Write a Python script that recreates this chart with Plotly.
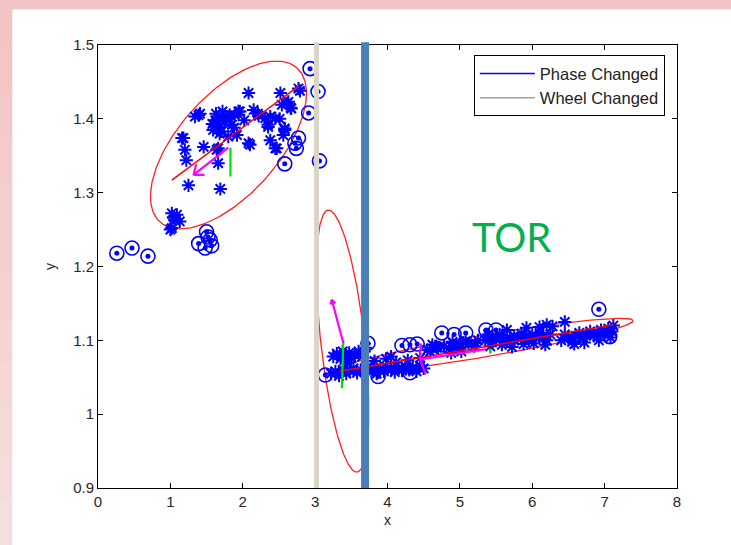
import numpy as np
import plotly.graph_objects as go

# ---- data -------------------------------------------------------------
# cluster 1 (upper-left) samples
c1_star_x = [2.08, 2.52, 1.39, 1.63, 1.64, 1.72, 1.82, 1.94, 2.15, 2.22, 2.38, 2.51, 2.61, 2.66,
             2.77, 2.35, 2.58, 2.56, 1.59, 1.70, 1.92, 1.18, 1.46, 2.10, 2.38, 2.45, 1.20, 1.22,
             1.66, 1.66, 1.25, 1.69, 2.79, 1.34, 1.41, 1.62, 1.69, 1.78, 1.89, 1.96, 2.21, 2.31,
             2.35, 2.45, 2.54, 2.63, 2.67, 2.58, 2.47, 2.08, 1.80, 1.64, 1.16, 1.75, 1.85, 1.68,
             1.72, 1.58, 2.02, 1.88,
             1.02, 1.09, 1.06, 1.13, 1.02, 1.00, 1.05]
c1_star_y = [1.435, 1.435, 1.405, 1.407, 1.398, 1.402, 1.405, 1.410, 1.412, 1.404, 1.403, 1.400,
             1.421, 1.415, 1.441, 1.389, 1.387, 1.378, 1.385, 1.383, 1.378, 1.374, 1.362, 1.365,
             1.371, 1.360, 1.358, 1.344, 1.360, 1.340, 1.310, 1.305, 1.438, 1.403, 1.407, 1.398,
             1.389, 1.403, 1.405, 1.410, 1.407, 1.401, 1.392, 1.401, 1.419, 1.423, 1.414, 1.385,
             1.360, 1.367, 1.376, 1.358, 1.374, 1.395, 1.392, 1.380, 1.410, 1.393, 1.398, 1.388,
             1.272, 1.270, 1.263, 1.261, 1.252, 1.250, 1.266]
c1_out_x = [2.93, 3.04, 2.91, 2.77, 2.72, 2.74, 2.58, 3.06, 0.26, 0.47, 0.69, 1.50, 1.52, 1.39,
            1.48, 1.57, 1.55]
c1_out_y = [1.468, 1.437, 1.408, 1.374, 1.367, 1.360, 1.339, 1.343, 1.218, 1.225, 1.214, 1.247,
            1.240, 1.231, 1.225, 1.228, 1.236]

# cluster 2/3 (lower-right) samples
c2_star_x = [3.25, 3.30, 3.35, 3.38, 3.42, 3.47, 3.50, 3.55, 3.60, 3.65, 3.70, 3.45,
             3.22, 3.28, 3.33, 3.38, 3.43, 3.48, 3.53, 3.58, 3.63, 3.68, 3.72,
             3.80, 3.85, 3.90, 3.95, 4.00, 4.05, 4.10, 4.15, 4.20, 4.25, 4.30, 4.35, 4.40, 4.45,
             4.50, 3.82, 3.98, 4.05, 4.12, 4.28, 4.45, 4.68, 4.59, 4.66,
             4.55, 4.62, 4.70, 4.78, 4.85, 4.90, 4.95, 5.00, 5.05, 5.12, 5.20, 5.25, 4.88, 5.02,
             5.08, 5.21, 5.39,
             5.35, 5.40, 5.45, 5.50, 5.55, 5.60, 5.65, 5.70, 5.75, 5.80, 5.85, 5.90, 5.95, 6.00,
             6.05, 6.10, 6.15, 6.20, 6.25, 5.42, 5.58, 5.72, 5.88, 6.02, 6.18, 5.65, 5.92, 6.10,
             6.28, 6.45, 6.20,
             6.40, 6.45, 6.50, 6.55, 6.60, 6.65, 6.70, 6.75, 6.80, 6.85, 6.90, 6.95, 7.00, 7.05,
             7.10, 7.12, 6.58, 6.72, 6.92, 7.08]
c2_star_y = [1.078, 1.082, 1.075, 1.085, 1.079, 1.083, 1.076, 1.080, 1.085, 1.078, 1.090, 1.070,
             1.055, 1.058, 1.052, 1.060, 1.055, 1.058, 1.062, 1.056, 1.060, 1.058, 1.064,
             1.060, 1.055, 1.062, 1.058, 1.063, 1.060, 1.057, 1.062, 1.059, 1.064, 1.060, 1.063,
             1.058, 1.066, 1.062, 1.072, 1.075, 1.078, 1.070, 1.073, 1.076, 1.090, 1.085, 1.092,
             1.087, 1.094, 1.090, 1.092, 1.089, 1.098, 1.093, 1.090, 1.097, 1.095, 1.092, 1.100,
             1.083, 1.085, 1.099, 1.096, 1.108,
             1.100, 1.105, 1.098, 1.103, 1.108, 1.100, 1.104, 1.098, 1.106, 1.102, 1.109, 1.104,
             1.100, 1.107, 1.103, 1.110, 1.105, 1.100, 1.108, 1.092, 1.094, 1.091, 1.095, 1.096,
             1.094, 1.114, 1.117, 1.118, 1.119, 1.125, 1.121,
             1.100, 1.108, 1.104, 1.098, 1.106, 1.110, 1.103, 1.108, 1.112, 1.106, 1.110, 1.114,
             1.108, 1.116, 1.112, 1.120, 1.095, 1.097, 1.100, 1.104]
c2_out_x = [3.14, 3.73, 4.20, 4.31, 4.41, 4.75, 4.92, 5.08, 5.36, 5.50, 7.07, 3.87, 4.31, 6.92]
c2_out_y = [1.053, 1.096, 1.093, 1.094, 1.095, 1.110, 1.108, 1.110, 1.114, 1.114, 1.105, 1.051,
            1.056, 1.142]

# fitted ellipses: centre, semi-major vector, semi-minor vector
ell_cx = [1.803, 3.380, 5.333]
ell_cy = [1.3646, 1.099, 1.0923]
ell_ax = [0.946, -0.200, 2.061]
ell_ay = [0.1043, 0.1774, 0.0345]
ell_bx = [0.517, 0.301, 0.0256]
ell_by = [-0.045, 0.00325, -0.01468]

# principal-axis lines inside the ellipses
axis_x = [[1.02, 2.78], [3.34, 7.12]]
axis_y = [[1.317, 1.445], [1.058, 1.121]]

# eigenvector arrows (tail -> tip)
arrow_tail_x = [1.80, 3.39, 5.36]
arrow_tail_y = [1.361, 1.096, 1.088]
arrow_tip_x = [1.32, 3.23, 4.45]
arrow_tip_y = [1.324, 1.155, 1.074]
# minor eigenvectors (green)
minor_x = [[1.83, 1.83], [3.39, 3.37], [5.42, 5.42]]
minor_y = [[1.361, 1.322], [1.100, 1.035], [1.089, 1.082]]

# event markers
event_names = ["Phase Changed", "Wheel Changed"]
event_x = [3.69, 3.02]
event_legend_colors = ["#0000ff", "#a0a0a0"]
event_bar_colors = ["#4a7ebb", "#d9d5c7"]
event_bar_widths = [8, 5]

x_ticks = [0, 1, 2, 3, 4, 5, 6, 7, 8]
y_ticks = [0.9, 1.0, 1.1, 1.2, 1.3, 1.4, 1.5]

FONT = "Liberation Sans, Arial, sans-serif"
BLUE = "#0000ff"
X_RANGE = [0, 8]
Y_RANGE = [0.9, 1.5]
W, H = 731, 545
MARGIN = dict(l=98, r=54, t=45, b=57)

# pixels per data unit, used to build arrow heads with a fixed on-screen size
px_per_x = (W - MARGIN["l"] - MARGIN["r"]) / (X_RANGE[1] - X_RANGE[0])
px_per_y = (H - MARGIN["t"] - MARGIN["b"]) / (Y_RANGE[1] - Y_RANGE[0])
head_len_px = [11, 5, 16]
head_angle_deg = [38, 30, 78]

fig = go.Figure()

# ellipses
t = np.linspace(0, 2 * np.pi, 240)
for cx, cy, ax_, ay_, bx, by in zip(ell_cx, ell_cy, ell_ax, ell_ay, ell_bx, ell_by):
    fig.add_trace(go.Scatter(
        x=cx + ax_ * np.cos(t) + bx * np.sin(t),
        y=cy + ay_ * np.cos(t) + by * np.sin(t),
        mode="lines", line=dict(color="#ff2020", width=1.3),
        showlegend=False, hoverinfo="skip"))

# samples
fig.add_trace(go.Scatter(
    x=c1_star_x + c2_star_x, y=c1_star_y + c2_star_y, mode="markers",
    marker=dict(symbol="asterisk-open", size=11, color=BLUE, line=dict(color=BLUE, width=2)),
    showlegend=False))
fig.add_trace(go.Scatter(
    x=c1_out_x + c2_out_x, y=c1_out_y + c2_out_y, mode="markers",
    marker=dict(symbol="circle-open", size=14, color=BLUE, line=dict(color=BLUE, width=1.6)),
    showlegend=False))
fig.add_trace(go.Scatter(
    x=c1_out_x + c2_out_x, y=c1_out_y + c2_out_y, mode="markers",
    marker=dict(symbol="circle", size=5, color=BLUE, line=dict(width=0)),
    showlegend=False))

# principal axes
for xs, ys in zip(axis_x, axis_y):
    fig.add_trace(go.Scatter(x=xs, y=ys, mode="lines",
                             line=dict(color="#ff0000", width=1.5),
                             showlegend=False, hoverinfo="skip"))

# minor eigenvectors
for xs, ys in zip(minor_x, minor_y):
    fig.add_trace(go.Scatter(x=xs, y=ys, mode="lines",
                             line=dict(color="#00e000", width=2.2),
                             showlegend=False, hoverinfo="skip"))

# major eigenvectors as quiver-style arrows with open heads
for tx, ty, hx, hy, hl, ha in zip(arrow_tail_x, arrow_tail_y, arrow_tip_x, arrow_tip_y,
                                  head_len_px, head_angle_deg):
    dx, dy = (hx - tx) * px_per_x, (hy - ty) * px_per_y
    ang = np.arctan2(dy, dx)
    xs, ys = [tx, hx, None], [ty, hy, None]
    for s in (1, -1):
        back = ang + np.pi + s * np.radians(ha)
        xs += [hx, hx + hl * np.cos(back) / px_per_x, None]
        ys += [hy, hy + hl * np.sin(back) / px_per_y, None]
    fig.add_trace(go.Scatter(x=xs, y=ys, mode="lines",
                             line=dict(color="#ff00ff", width=2.2),
                             showlegend=False, hoverinfo="skip"))

# legend entries for the event markers
for name, col in zip(event_names, event_legend_colors):
    fig.add_trace(go.Scatter(x=[None], y=[None], mode="lines", name=name,
                             line=dict(color=col, width=1.5)))

# event bars
for ex, col, w in zip(event_x, event_bar_colors, event_bar_widths):
    fig.add_shape(type="line", xref="x", yref="paper", x0=ex, x1=ex, y0=0.0, y1=1.006,
                  line=dict(color=col, width=w), layer="above")

# slide frame
fig.add_shape(type="rect", xref="paper", yref="paper", x0=-0.2, x1=1.2, y0=1.08, y1=1.2,
              fillcolor="#f4c3c3", line=dict(width=0), layer="below")
n_strips = 12
for i in range(n_strips):
    y_top = 1.1016 - i * (1.2302 / n_strips)
    y_bot = y_top - 1.2302 / n_strips
    shade = 195 + int(28 * i / (n_strips - 1))
    fig.add_shape(type="rect", xref="paper", yref="paper", x0=-0.2, x1=-0.148,
                  y0=y_bot - 0.001, y1=y_top + 0.001,
                  fillcolor=f"rgb(244,{shade},{shade})", line=dict(width=0), layer="below")

fig.add_annotation(x=5.72, y=1.24, xref="x", yref="y", text="TOR", showarrow=False,
                   font=dict(family="Lato, Open Sans, sans-serif", size=40, color="#00b050"))

axis_common = dict(showline=True, linecolor="black", linewidth=1, mirror="ticks",
                   ticks="inside", ticklen=5, tickcolor="black", showgrid=False,
                   zeroline=False, tickfont=dict(family=FONT, size=15, color="#262626"))
fig.update_xaxes(range=X_RANGE, tickvals=x_ticks, ticktext=[str(v) for v in x_ticks],
                 title=dict(text="x", font=dict(family=FONT, size=14, color="#262626"),
                            standoff=6), **axis_common)
fig.update_yaxes(range=Y_RANGE, tickvals=y_ticks, ticktext=[f"{v:g}" for v in y_ticks],
                 title=dict(text="y", font=dict(family=FONT, size=14, color="#262626"),
                            standoff=14), **axis_common)

fig.update_layout(
    width=W, height=H,
    margin=MARGIN,
    paper_bgcolor="white", plot_bgcolor="white",
    legend=dict(x=0.979, xanchor="right", y=0.977, yanchor="top",
                bgcolor="white", bordercolor="black", borderwidth=1, itemwidth=55,
                font=dict(family=FONT, size=16.5, color="#222"), tracegroupgap=0),
)

fig.write_html("out.html")
